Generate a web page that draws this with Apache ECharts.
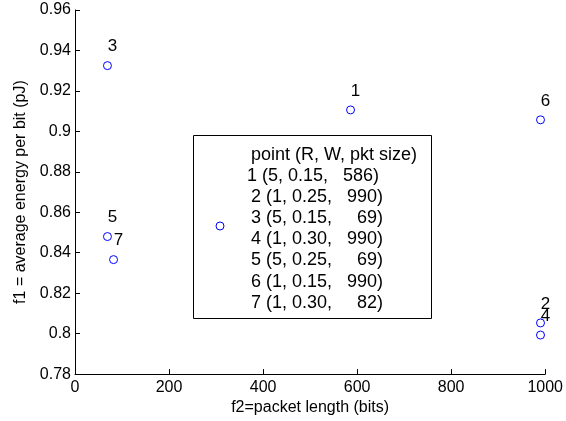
<!DOCTYPE html>
<html>
<head>
<meta charset="utf-8">
<script src="https://cdn.jsdelivr.net/npm/echarts@6/dist/echarts.min.js"></script>
<style>
  html, body { margin: 0; padding: 0; background: #fff; }
  #main { width: 566px; height: 421px; }
</style>
</head>
<body>
<div id="main"></div>
<script>
// point labels, packet length (bits), average energy per bit (pJ)
const pointNames = ['1', '2', '3', '4', '5', '6', '7']
const pktLength = [586, 990, 69, 990, 69, 990, 82]
const energy = [0.9106, 0.8053, 0.9325, 0.7993, 0.848, 0.9057, 0.8366]

// legend text lines
const legendLines = [
  'point (R, W, pkt size)',
  '1 (5, 0.15,   586)',
  '2 (1, 0.25,   990)',
  '3 (5, 0.15,     69)',
  '4 (1, 0.30,   990)',
  '5 (5, 0.25,     69)',
  '6 (1, 0.15,   990)',
  '7 (1, 0.30,     82)'
]

const font = "'Liberation Sans', Arial, Helvetica, sans-serif"
const blue = '#0000ff'

const chart = echarts.init(document.getElementById('main'), null, { renderer: 'canvas' })

// legend box drawn as graphic (multi-line MATLAB-style legend)
const legendGraphic = [
  {
    type: 'rect',
    shape: { x: 193.5, y: 135.5, width: 238, height: 183 },
    style: { fill: '#fff', stroke: '#000', lineWidth: 1 },
    z: 10
  },
  {
    type: 'circle',
    shape: { cx: 220, cy: 226, r: 4 },
    style: { fill: 'none', stroke: blue, lineWidth: 1 },
    z: 11
  }
]
legendLines.forEach((line, i) => {
  legendGraphic.push({
    type: 'text',
    x: i === 0 ? 251 : (i === 1 ? 247 : 251),
    y: 155 + i * 21.1,
    style: {
      text: line,
      font: '18px ' + font,
      fill: '#000',
      textAlign: 'left',
      textVerticalAlign: 'middle'
    },
    z: 11
  })
})

const option = {
  animation: false,
  backgroundColor: '#fff',
  textStyle: { fontFamily: font },
  grid: {
    left: 75,
    right: 19,
    top: 10,
    bottom: 46.5,
    containLabel: false
  },
  xAxis: {
    type: 'value',
    min: 0,
    max: 1000,
    interval: 200,
    name: 'f2=packet length (bits)',
    nameLocation: 'middle',
    nameGap: 23,
    nameTextStyle: { color: '#000', fontSize: 16, fontFamily: font },
    axisLine: { show: true, lineStyle: { color: '#000', width: 1 } },
    axisTick: { show: true, inside: true, length: 5, lineStyle: { color: '#000' } },
    axisLabel: { color: '#000', fontSize: 16, margin: 5, fontFamily: font, formatter: v => String(v) },
    splitLine: { show: false }
  },
  yAxis: {
    type: 'value',
    min: 0.78,
    max: 0.96,
    interval: 0.02,
    name: 'f1 = average energy per bit (pJ)',
    nameLocation: 'middle',
    nameRotate: 90,
    nameGap: 38,
    nameTextStyle: { color: '#000', fontSize: 16, fontFamily: font },
    axisLine: { show: true, lineStyle: { color: '#000', width: 1 } },
    axisTick: { show: true, inside: true, length: 5, lineStyle: { color: '#000' } },
    axisLabel: { color: '#000', fontSize: 16, margin: 4, fontFamily: font },
    splitLine: { show: false }
  },
  series: [
    {
      type: 'scatter',
      symbol: 'circle',
      symbolSize: 8,
      itemStyle: { color: 'rgba(0,0,0,0)', borderColor: blue, borderWidth: 1, opacity: 1 },
      emphasis: { disabled: true },
      label: {
        show: true,
        position: 'top',
        distance: 6,
        offset: [5, 0],
        color: '#000',
        fontSize: 17,
        fontFamily: font,
        textBorderWidth: 0,
        formatter: p => pointNames[p.dataIndex]
      },
      data: pktLength.map((x, i) => [x, energy[i]])
    }
  ],
  graphic: legendGraphic
}

chart.setOption(option)
</script>
</body>
</html>
